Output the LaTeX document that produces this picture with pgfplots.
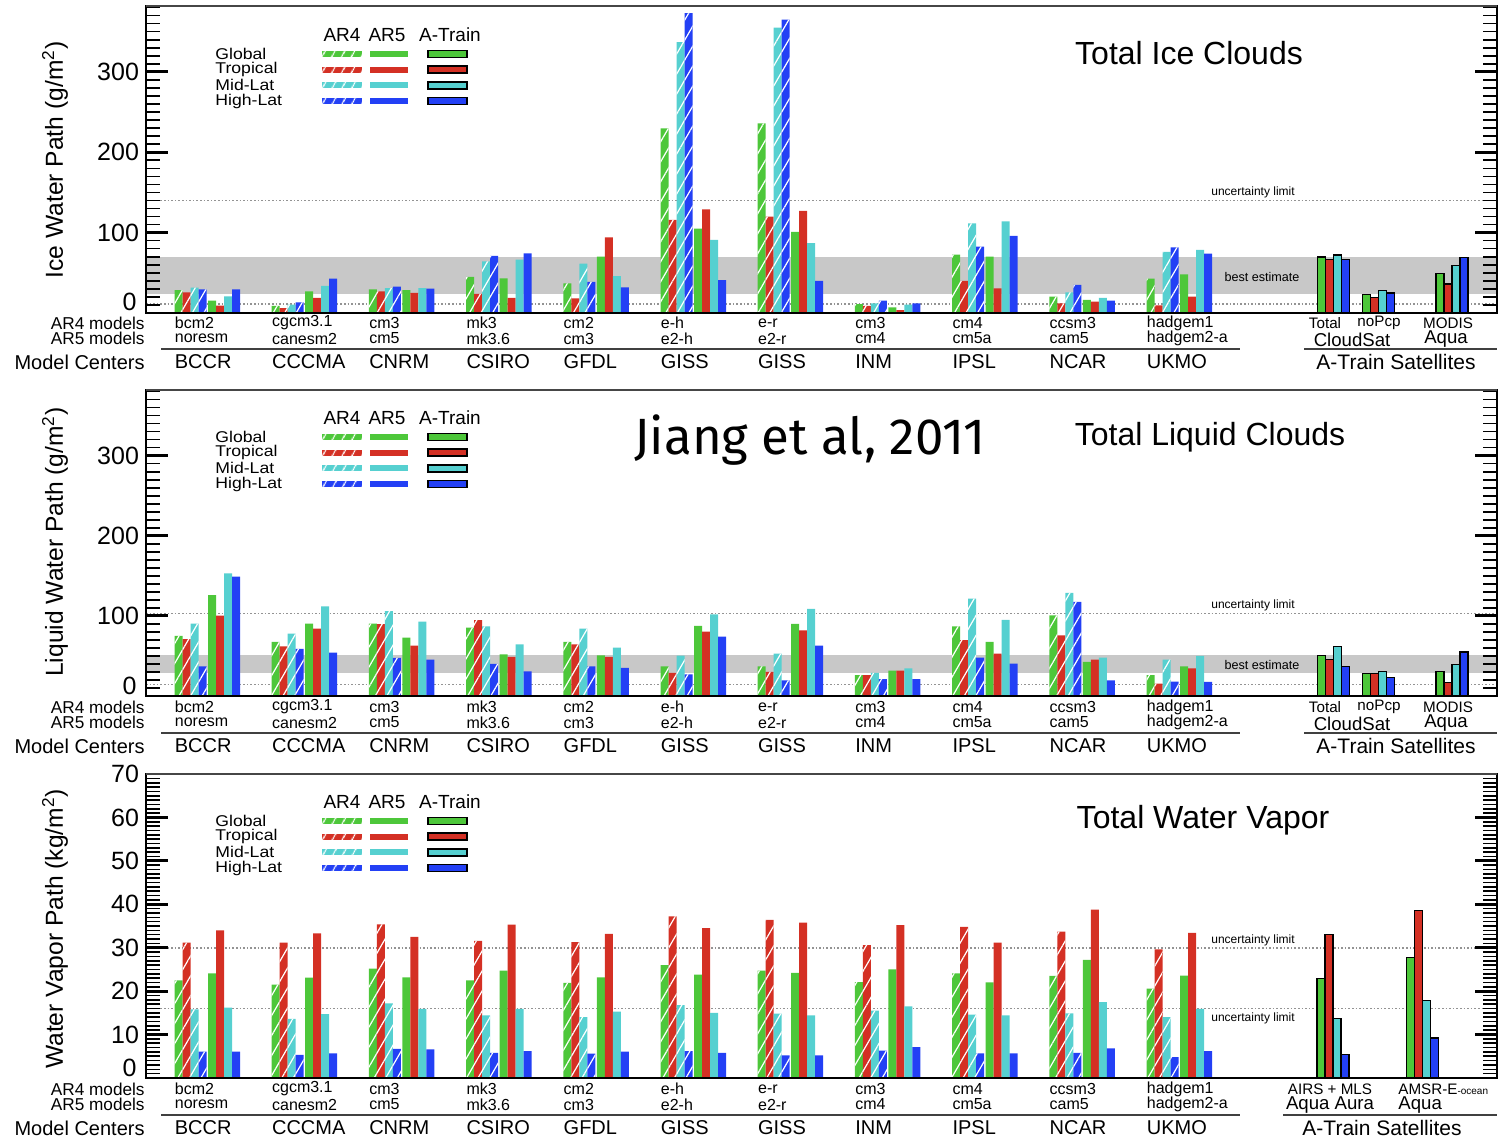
\documentclass[border=0pt]{standalone}
\usepackage{pgfplots}
\pgfplotsset{compat=1.18}
\usepackage{pgfplotstable}
\usetikzlibrary{patterns.meta}
\usepackage{fontspec}
\setmainfont{Liberation Sans}
\newfontfamily\jfont{Fira Sans}
\newcommand\fs[1]{\fontsize{#1}{#1}\selectfont}

\definecolor{cG}{RGB}{77,199,58}
\definecolor{cR}{RGB}{212,48,36}
\definecolor{cC}{RGB}{86,208,208}
\definecolor{cB}{RGB}{35,64,245}
\definecolor{bandgray}{RGB}{200,200,200}

% ---------------- Ice ----------------
\pgfplotstableread{
g a4g a4r a4c a4b a5g a5r a5c a5b
0 28.6 25.7 31.5 29.5 15.4 9.1 20.7 29.5
1 9 6 10.4 13.3 27 18.7 33.6 42.7
2 29.5 27 31 32.8 28.6 25 31 30.3
3 44.8 23.7 64.3 71 43.2 18.7 66.4 74.3
4 37 18.3 61.4 38.6 70 94 46 32
5 229.6 116 337 373 105 129 91 41
6 236 120 355 365 101 127 87 40
7 11 9 12 15.4 7 3.7 10.4 12
8 72.6 40 111.6 82.6 70 30.7 114 95.8
9 20.3 12 25.7 34.9 16.2 14 18.7 15.4
10 42.7 9.5 76 81.7 48 20.3 78.4 74
}\iceM
\pgfplotstableread{
x g r c b
1317.7 69.7 66.8 72.2 66.8
1362.4 22.8 19.5 27.8 24.9
1436 49.4 36.1 59 68.9
}\iceA

% ---------------- Liquid ----------------
\pgfplotstableread{
g a4g a4r a4c a4b a5g a5r a5c a5b
0 75 71 90.4 37 126 100.4 153 149
1 67.5 62 78 58.75 90.4 84 112 54
2 90.4 89.6 105.8 47.5 73 63 93 45.4
3 85.4 94.6 87 40 52 48.75 64.6 30.8
4 67.5 64.6 84 37 50.8 48.75 60.4 35
5 37 28.75 50.4 27 87.5 80.4 102 74
6 37 30 53 19.6 90 82 108.75 63
7 26 26 28.75 21 31.7 31.7 34.6 21
8 87 69.6 121.7 48 67.5 53 95 40.4
9 100.8 75.8 128.75 117.5 42.5 45.4 48 19.6
10 26 15.4 45.4 18 37 34.6 50 17.5
}\liqM
\pgfplotstableread{
x g r c b
1317.7 50.4 46 62 36.7
1362.4 28 28 30.8 23
1436 30.8 17 39.6 55
}\liqA

% ---------------- Vapor ----------------
\pgfplotstableread{
g a4g a4r a4c a4b a5g a5r a5c a5b
0 22.5 31.2 15.8 6.1 24.1 34 16.2 6.1
1 21.5 31.2 13.6 5.3 23.1 33.3 14.7 5.7
2 25.2 35.4 17.2 6.7 23.2 32.5 15.9 6.6
3 22.5 31.6 14.4 5.8 24.7 35.3 15.9 6.2
4 21.9 31.3 14 5.6 23.2 33.2 15.3 6.1
5 26 37.2 16.8 6.2 23.8 34.5 15 5.8
6 24.7 36.4 14.8 5.2 24.2 35.8 14.4 5.2
7 22.1 30.6 15.5 6.3 25 35.2 16.5 7.1
8 24.1 34.8 14.6 5.7 22 31.2 14.4 5.7
9 23.5 33.7 14.9 5.8 27.2 38.8 17.5 6.8
10 20.6 29.6 14 4.8 23.6 33.4 15.9 6.2
}\vapM
\pgfplotstableread{
x g r c b
1317 22.9 33.1 13.7 5.5
1406.7 27.8 38.5 17.8 9.2
}\vapA

\tikzset{zerolab/.style={anchor=base east, font=\fs{12.5}, inner sep=0pt}}

\pgfplotsset{
 panel/.style={
  scale only axis, width=675.5pt, xmin=146, xmax=1497, ymin=0,
  xtick=\empty, anchor=south west, axis on top, clip mode=individual,
  axis line style={line width=1.4pt},
  tick align=inside,
  major tick length=11pt, minor tick length=7pt,
  every major tick/.append style={line width=1.4pt, black},
  every minor tick/.append style={line width=0.8pt, black},
  yticklabel style={font=\fs{12.5}},
  /pgf/number format/assume math mode=true,
 },
 mbar/.style={ybar, bar width=8, bar shift=0pt, draw=none, fill=#1},
 hbar/.style={mbar=#1, postaction={pattern={Lines[angle=60,distance=5pt,line width=0.6pt]}, pattern color=white}},
 abar/.style={ybar, bar width=8, bar shift=0pt, draw=black, line width=0.6pt, fill=#1},
 refline/.style={densely dotted, gray!85, line width=0.8pt},
}

\newcommand\modelbars[1]{%
 \addplot[hbar=cG] table[x expr=178.5+97.2*\thisrow{g}, y=a4g]{#1};
 \addplot[hbar=cR] table[x expr=186.5+97.2*\thisrow{g}, y=a4r]{#1};
 \addplot[hbar=cC] table[x expr=194.5+97.2*\thisrow{g}, y=a4c]{#1};
 \addplot[hbar=cB] table[x expr=202.5+97.2*\thisrow{g}, y=a4b]{#1};
 \addplot[mbar=cG] table[x expr=212+97.2*\thisrow{g}, y=a5g]{#1};
 \addplot[mbar=cR] table[x expr=220+97.2*\thisrow{g}, y=a5r]{#1};
 \addplot[mbar=cC] table[x expr=228+97.2*\thisrow{g}, y=a5c]{#1};
 \addplot[mbar=cB] table[x expr=236+97.2*\thisrow{g}, y=a5b]{#1};
}
\newcommand\atrain[1]{%
 \addplot[abar=cG] table[x expr=\thisrow{x}+4, y=g]{#1};
 \addplot[abar=cR] table[x expr=\thisrow{x}+12, y=r]{#1};
 \addplot[abar=cC] table[x expr=\thisrow{x}+20, y=c]{#1};
 \addplot[abar=cB] table[x expr=\thisrow{x}+28, y=b]{#1};
}

\begin{document}
\begin{tikzpicture}
\useasboundingbox (0,0) rectangle (753.5pt,573pt);

% Panel 1: ice
\begin{axis}[panel, at={(73pt,416.5pt)}, height=153.5pt, ymax=382,
  ytick={0,100,200,300}, yticklabels={{},100,200,300}, minor ytick={0,10,...,380}]
 \addplot[draw=none, fill=bandgray] coordinates {(146,24)(1497,24)(1497,70)(146,70)} --cycle;
 \addplot[refline] coordinates {(146,140)(1497,140)};
 \addplot[refline] coordinates {(146,11.5)(1497,11.5)};
 \modelbars{\iceM}
 \atrain{\iceA}
 \node[font=\fs{6}] at (axis cs:1253,150) {uncertainty limit};
 \node[font=\fs{6.3}] at (axis cs:1262,45) {best estimate};
 \node[zerolab] at ([xshift=-4.5pt,yshift=1pt]rel axis cs:0,0) {0};
\end{axis}

% Panel 2: liquid
\begin{axis}[panel, at={(73pt,225pt)}, height=153pt, ymax=382,
  ytick={0,100,200,300}, yticklabels={{},100,200,300}, minor ytick={0,10,...,380}]
 \addplot[draw=none, fill=bandgray] coordinates {(146,29)(1497,29)(1497,51.5)(146,51.5)} --cycle;
 \addplot[refline] coordinates {(146,103)(1497,103)};
 \addplot[refline] coordinates {(146,14.6)(1497,14.6)};
 \modelbars{\liqM}
 \atrain{\liqA}
 \node[font=\fs{6}] at (axis cs:1253,113) {uncertainty limit};
 \node[font=\fs{6.3}] at (axis cs:1262,39) {best estimate};
 \node[zerolab] at ([xshift=-4.5pt,yshift=0.7pt]rel axis cs:0,0) {0};
\end{axis}

% Panel 3: vapor
\begin{axis}[panel, at={(73pt,34pt)}, height=152pt, ymax=70,
  ytick={0,10,...,70}, yticklabels={{},10,20,30,40,50,60,70}, minor ytick={0,1,...,70}]
 \addplot[refline] coordinates {(146,30)(1497,30)};
 \addplot[refline] coordinates {(146,16)(1497,16)};
 \modelbars{\vapM}
 \atrain{\vapA}
 \node[font=\fs{6}] at (axis cs:1253,31.8) {uncertainty limit};
 \node[font=\fs{6}] at (axis cs:1253,13.8) {uncertainty limit};
 \node[zerolab] at ([xshift=-4.5pt,yshift=0.7pt]rel axis cs:0,0) {0};
\end{axis}

\begin{scope}[yshift=573pt, x=0.5pt, y=-0.5pt]
 \foreach \t in {6,390,774} \draw[line width=1.4pt, gray!55!black] (146,\t)--(1497,\t);
 % y labels
 \node[rotate=90, font=\fs{12.3}] at (55,160) {Ice Water Path (g/m\textsuperscript{2})};
 \node[rotate=90, font=\fs{12.3}] at (55,542) {Liquid Water Path (g/m\textsuperscript{2})};
 \node[rotate=90, font=\fs{12.3}] at (55,929) {Water Vapor Path (kg/m\textsuperscript{2})};
 % titles
 \node[font=\fs{16}] at (1189,53) {Total Ice Clouds};
 \node[font=\fs{16}] at (1210,437) {Total Liquid Clouds};
 \node[font=\fs{16}] at (1203,820) {Total Water Vapor};
 \node[font=\jfont\fs{25.5}] at (810,440) {Jiang et al, 2011};
 % legends
 \foreach \o in {0,383,767} {
   \node[font=\fs{9.5}, inner sep=0] at (342,35+\o) {AR4};
   \node[font=\fs{9.5}, inner sep=0] at (387,35+\o) {AR5};
   \node[font=\fs{9.5}, inner sep=0] at (450,35+\o) {A-Train};
   \foreach \k/\lab/\col in {0/Global/cG,1/Tropical/cR,2/Mid-Lat/cC,3/High-Lat/cB} {
     \pgfmathsetmacro\yy{54+15.7*\k+\o}
     \node[anchor=west, font=\fs{7.8}, inner sep=0, xscale=1.13] at (215,\yy) {\lab};
     \fill[\col, postaction={pattern={Lines[angle=60,distance=4pt,line width=0.6pt]}, pattern color=white}] (322,\yy-3) rectangle (362,\yy+3);
     \fill[\col] (370,\yy-3) rectangle (408,\yy+3);
     \filldraw[fill=\col, draw=black, line width=0.8pt] (428,\yy-3.5) rectangle (467,\yy+3.5);
   }
 }
 % model labels
 \foreach \b in {323,707,1089} {
   \node[anchor=east, font=\fs{8.6}, inner sep=0] at (145,\b) {AR4 models};
   \node[anchor=east, font=\fs{8.6}, inner sep=0] at (145,\b+15.5) {AR5 models};
   \node[anchor=east, font=\fs{10}, inner sep=0] at (145,\b+39) {Model Centers};
   \draw[line width=1pt, gray!50!black] (161,\b+26)--(1240,\b+26);
   \foreach \i/\a/\bb/\c in {0/bcm2/noresm/BCCR, 1/cgcm3.1/canesm2/CCCMA, 2/cm3/cm5/CNRM,
       3/mk3/mk3.6/CSIRO, 4/cm2/cm3/GFDL, 5/e-h/e2-h/GISS, 6/e-r/e2-r/GISS, 7/cm3/cm4/INM,
       8/cm4/cm5a/IPSL, 9/ccsm3/cam5/NCAR, 10/hadgem1/hadgem2-a/UKMO} {
     \pgfmathsetmacro\xx{174.5+97.2*\i}
     \node[anchor=west, font=\fs{8}, inner sep=0] at (\xx,\b) {\a};
     \node[anchor=west, font=\fs{8}, inner sep=0] at (\xx,\b+15.5) {\bb};
     \node[anchor=west, font=\fs{10}, inner sep=0] at (\xx,\b+39) {\c};
   }
 }
 % A-Train labels (panels 1 and 2)
 \foreach \b in {323,707} {
   \node[font=\fs{7.6}, inner sep=0] at (1325,\b) {Total};
   \node[font=\fs{7.6}, inner sep=0] at (1379,\b) {noPcp};
   \node[font=\fs{7.6}, inner sep=0] at (1448,\b) {MODIS};
   \node[font=\fs{9.3}, inner sep=0] at (1352,\b+16.5) {CloudSat};
   \node[font=\fs{9.3}, inner sep=0] at (1446,\b+16.5) {Aqua};
   \draw[line width=1pt, gray!50!black] (1304,\b+26)--(1497,\b+26);
   \node[font=\fs{10.5}, inner sep=0] at (1396,\b+39) {A-Train Satellites};
 }
 % A-Train labels (panel 3)
 \node[font=\fs{7.6}, inner sep=0] at (1330,1089) {AIRS + MLS};
 \node[anchor=west, font=\fs{7.6}, inner sep=0] at (1398,1089) {AMSR-E{\fs{5}-ocean}};
 \node[font=\fs{9.3}, inner sep=0] at (1330,1105.5) {Aqua Aura};
 \node[anchor=west, font=\fs{9.3}, inner sep=0] at (1398,1105.5) {Aqua};
 \draw[line width=1pt, gray!50!black] (1283,1115)--(1497,1115);
 \node[font=\fs{10.5}, inner sep=0] at (1382,1128) {A-Train Satellites};
\end{scope}
\end{tikzpicture}
\end{document}
